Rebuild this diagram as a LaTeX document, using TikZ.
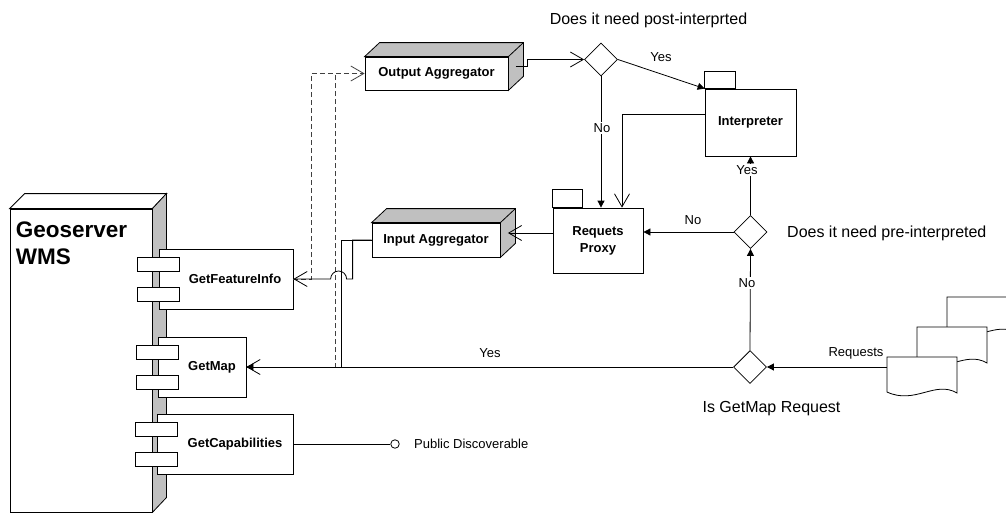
\documentclass[tikz,border=0pt]{standalone}
\usepackage{fontspec}
\setmainfont{Liberation Sans}
\usetikzlibrary{arrows.meta,shapes.geometric}
\definecolor{sidegray}{RGB}{192,192,192}

\begin{document}
\begin{tikzpicture}[x=1pt, y=-1pt,
every node/.style={font=\fontsize{13}{15}\selectfont},
box/.style={draw, fill=white, line width=0.8pt, inner sep=0pt},
comptext/.style={font=\fontsize{13}{17}\selectfont\bfseries, align=center},
port/.style={draw, fill=white, line width=0.8pt, minimum width=42pt, minimum height=14pt, inner sep=0pt},
decision/.style={draw, fill=white, line width=0.8pt, diamond, minimum size=33pt, inner sep=0pt},
link/.style={line width=0.8pt},
dashlink/.style={line width=0.8pt, draw=black!75, dash pattern=on 5pt off 3pt},
openhead/.style={-{Straight Barb[length=13pt,width=15pt]}},
fillhead/.style={-{Triangle[length=7pt,width=7pt]}},
note/.style={fill=white, inner sep=1pt},
bigtext/.style={font=\fontsize{16}{19}\selectfont, inner sep=0pt}]

\useasboundingbox (0,0) rectangle (1006,512);
\clip (0,0) rectangle (1006,512);

% geoserver node
\node[box, minimum width=142pt, minimum height=303pt] (wms) at (81,360.5) {};
\draw[link, fill=white] (wms.north west) -- ++(15,-15) -- ++(142,0) -- (wms.north east) -- cycle;
\draw[link, fill=sidegray] (wms.north east) -- ++(14,-15) -- ++(0,304) -- (wms.south east) -- cycle;
\node[anchor=north west, font=\fontsize{22.5}{27}\selectfont\bfseries, align=left, inner sep=0pt] (wmstext)
  at ([shift={(6,13)}]wms.north west) {Geoserver\\WMS};

% components
\node[box, minimum width=134pt, minimum height=60pt] (gfi) at (226,279) {};
\node[box, minimum width=88pt, minimum height=60pt] (gmap) at (202,367) {};
\node[box, minimum width=136pt, minimum height=60pt] (gcap) at (225,444) {};
\foreach \c in {gfi,gmap,gcap} {
  \node[port] (\c-p1) at ([yshift=15pt]\c.west) {};
  \node[port] (\c-p2) at ([yshift=-15pt]\c.west) {};
}
\node[comptext] (gfitext) at ([xshift=9pt]gfi.center) {GetFeatureInfo};
\node[comptext] (gmaptext) at ([xshift=10pt]gmap.center) {GetMap};
\node[comptext] (gcaptext) at ([xshift=10pt]gcap.center) {GetCapabilities};

% aggregators
\node[box, comptext, minimum width=143pt, minimum height=33pt] (outagg) at (436.5,73.5) {Output Aggregator};
\node[box, comptext, minimum width=128pt, minimum height=34pt] (inagg) at (436,240) {Input Aggregator};
\foreach \n in {outagg,inagg} {
  \draw[link, fill=sidegray] (\n.north west) -- ++(15,-14) -| ([shift={(15,-14)}]\n.south east)
    -- (\n.south east) -- (\n.north east) -- cycle;
  \draw[link] (\n.north east) -- ++(15,-14);
  \coordinate (\n port) at ([shift={(7.5,-7)}]\n.east);
}

% packages
\node[box, comptext, minimum width=90pt, minimum height=65pt] (proxy) at (598,240.5) {Requets\\Proxy};
\draw[link, fill=white] (proxy.north west) rectangle ++(30,-18);
\node[box, comptext, minimum width=91pt, minimum height=67pt] (interp) at (750.5,122.5) {Interpreter};
\draw[link, fill=white] (interp.north west) rectangle ++(31,-17);

% decisions
\node[decision] (d1) at (601,59.5) {};
\node[decision] (d2) at (750.5,232) {};
\node[decision] (d3) at (750,367) {};
\node[bigtext, anchor=base] (posttext) at (648.5,24) {Does it need post-interprted};
\node[bigtext, anchor=base west] (pretext) at (787,237) {Does it need pre-interpreted};
\node[bigtext, anchor=base] (gmtext) at (771.5,412) {Is GetMap Request};

% requests
\foreach \x/\y in {947/297, 917/327, 887/357}
  \draw[link, fill=white] (\x,\y) -- (\x+70,\y) -- (\x+70,\y+36)
    .. controls (\x+48,\y+23) and (\x+28,\y+48) .. (\x,\y+35) -- cycle;
\coordinate (reqin) at (887,367);

% public interface
\node[draw, circle, line width=0.8pt, fill=white, inner sep=0pt, minimum size=8.5pt] (pub) at (395,444) {};
\node[anchor=west, inner sep=0pt] (pubtext) at (414,444) {Public Discoverable};

% dashed outputs
\draw[dashlink, openhead] (gfi.east) -- ++(18,0) |- (outagg.west);
\draw[dashlink] (gmap.east) -- ++(89,0) |- ([xshift=-30pt]outagg.west);

% flows
\draw[link, openhead] (outaggport) -- ++(11,0) |- (d1.west);
\draw[link, fillhead] (d1.east) -- (interp.north west);
\draw[link, fillhead] (d1.south) -- (d1.south |- proxy.north);
\draw[link, openhead] ([yshift=8.5pt]interp.west) -| ([xshift=24pt]proxy.north);
\draw[link, fillhead] (d2.north) -- (interp.south);
\draw[link, fillhead] (d2.west) -- (d2.west -| proxy.east);
\draw[link, fillhead] (d3.north) -- (d2.south);
\draw[link, fillhead] (reqin) -- (d3.east);
\draw[link, openhead] (d3.west) -- (gmap.east);
\draw[link, fillhead] ([xshift=9pt]gmap.east) -- (gmap.east);
\draw[link, openhead] (proxy.west |- inaggport) -- (inaggport);
\draw[link] (inagg.west) -- ++(-30,0) |- (gmap.east);
\draw[link, openhead] (inagg.west) -- ++(-19,0) -- ++(0,39) -- ++(-6,0)
  arc[start angle=0, end angle=180, radius=8pt] -- (gfi.east);
\draw[link] (gcap.east) -- (pub);

% labels
\node[note] (yes1) at (661,57) {Yes};
\node[note] (no1) at (602,128) {No};
\node[note] (yes2) at (747,170) {Yes};
\node[note] (no2) at (693,220) {No};
\node[note] (no3) at (747,283) {No};
\node[note] (reqtext) at (856,353) {Requests};
\node[note] (yes3) at (490,353) {Yes};
\end{tikzpicture}
\end{document}
